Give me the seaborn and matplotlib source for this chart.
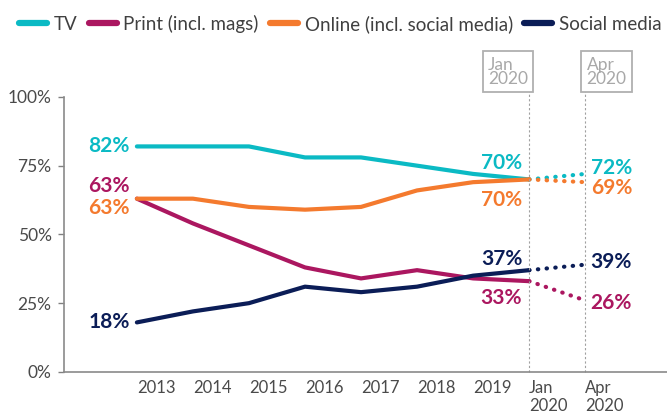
import matplotlib
matplotlib.use("Agg")
import matplotlib.pyplot as plt
from matplotlib.lines import Line2D
import seaborn as sns
import pandas as pd

periods = ["2013", "2014", "2015", "2016", "2017", "2018", "2019", "Jan\n2020", "Apr\n2020"]
tv = [82, 82, 82, 78, 78, 75, 72, 70, 72]
printed = [63, 54, 46, 38, 34, 37, 34, 33, 26]
online = [63, 63, 60, 59, 60, 66, 69, 70, 69]
social = [18, 22, 25, 31, 29, 31, 35, 37, 39]

series_names = ["TV", "Print (incl. mags)", "Online (incl. social media)", "Social media"]
colors = {"TV": "#0bbac4", "Print (incl. mags)": "#ab1760",
          "Online (incl. social media)": "#f47a2e", "Social media": "#0b1d57"}

rows = []
for name, vals in zip(series_names, [tv, printed, online, social]):
    for i, v in enumerate(vals):
        rows.append({"pos": i, "period": periods[i], "value": v, "series": name})
df = pd.DataFrame(rows)

sns.set_style("white")
plt.rcParams["font.family"] = ["Lato", "DejaVu Sans"]

fig = plt.figure(figsize=(6.67, 4.16), dpi=100)
ax = fig.add_axes([0.096, 0.106, 0.904, 0.661])

lw = 3.0
for name in series_names:
    d = df[df.series == name]
    sns.lineplot(data=d[d.pos <= 7], x="pos", y="value", color=colors[name],
                 linewidth=lw, ax=ax, solid_capstyle="round", solid_joinstyle="round")
    sns.lineplot(data=d[d.pos >= 7], x="pos", y="value", color=colors[name],
                 linewidth=lw, ax=ax, linestyle=(0, (0.1, 2.0)), dash_capstyle="round")

ax.set_xlim(-1.3, 9.46)
ax.set_ylim(0, 100)
ax.set_xlabel("")
ax.set_ylabel("")

# guide lines for the latest two points
for p in [7, 8]:
    ax.axvline(p, ymin=0, ymax=1.02, color="#a0a0a0", linestyle=(0, (2, 2)),
               linewidth=0.8, clip_on=False)
box = dict(boxstyle="square,pad=0.3", fc="white", ec="#b0b0b0", lw=1.3)
ax.text(6.975, 1.037, "Jan\n2020", transform=ax.get_xaxis_transform(), ha="right", va="bottom",
        multialignment="left", fontsize=12.5, color="#a8a8a8", linespacing=0.85, bbox=box)
ax.text(8.025, 1.037, "Apr\n2020", transform=ax.get_xaxis_transform(), ha="left", va="bottom",
        multialignment="left", fontsize=12.5, color="#a8a8a8", linespacing=0.85, bbox=box)

ax.set_yticks([0, 25, 50, 75, 100])
ax.set_yticklabels(["0%", "25%", "50%", "75%", "100%"], fontsize=12.5, color="#4a4a4a")
ax.set_xticks(range(len(periods)))
ax.set_xticklabels(periods, fontsize=12, color="#4a4a4a", ha="left", linespacing=1.1)
ax.tick_params(axis="x", length=0, pad=6)
ax.tick_params(axis="y", length=4, color="#808080", width=1, pad=5, left=True)

for s in ["top", "right"]:
    ax.spines[s].set_visible(False)
for s in ["left", "bottom"]:
    ax.spines[s].set_color("#8a8a8a")
    ax.spines[s].set_linewidth(1.2)

# data labels
def lab(name, idx, txt, dx, dy, ha):
    ax.annotate(txt, (idx, df[(df.series == name) & (df.pos == idx)].value.iloc[0]),
                xytext=(dx, dy), textcoords="offset points", ha=ha, va="center",
                fontsize=15, fontweight="bold", color=colors[name])

lab("TV", 0, "82%", -5, 0, "right")
lab("Print (incl. mags)", 0, "63%", -5, 9, "right")
lab("Online (incl. social media)", 0, "63%", -5, -7, "right")
lab("Social media", 0, "18%", -5, 0, "right")
lab("TV", 7, "70%", -5, 12, "right")
lab("Online (incl. social media)", 7, "70%", -5, -15, "right")
lab("Social media", 7, "37%", -5, 8, "right")
lab("Print (incl. mags)", 7, "33%", -5, -12, "right")
lab("TV", 8, "72%", 4, 4, "left")
lab("Online (incl. social media)", 8, "69%", 4, -4, "left")
lab("Social media", 8, "39%", 4, 2, "left")
lab("Print (incl. mags)", 8, "26%", 4, -2, "left")

handles = [Line2D([0], [0], color=colors[n], lw=4.5, solid_capstyle="round") for n in series_names]
fig.legend(handles, series_names, loc="upper left", bbox_to_anchor=(0.003, 1.005), ncol=4,
           frameon=False, handlelength=1.5, handletextpad=0.35, columnspacing=0.6,
           labelcolor="#404040",
           prop={"family": ["Liberation Sans Narrow", "Lato"], "size": 13.5})

fig.savefig("out.png", dpi=100)
